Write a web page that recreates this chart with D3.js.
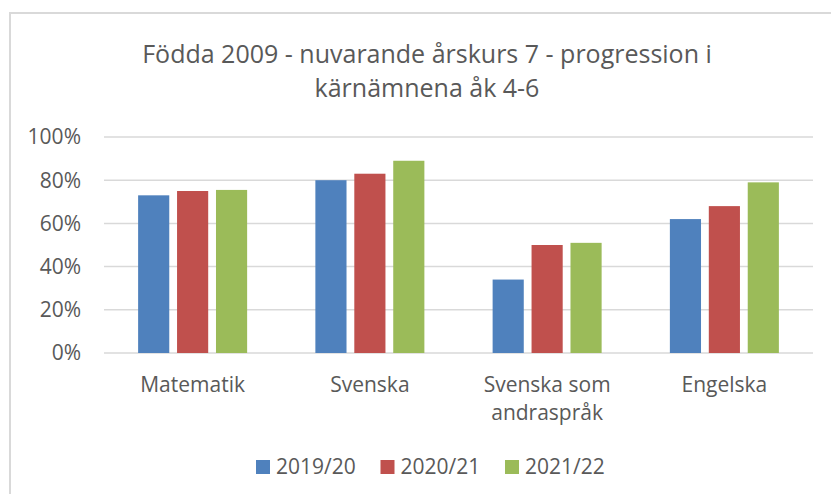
<!DOCTYPE html>
<meta charset="utf-8">
<script src="https://d3js.org/d3.v7.min.js"></script>
<style>
  body { margin: 0; background: #fff; }
  text { font-family: "Open Sans", sans-serif; fill: #595959; }
</style>
<svg width="831" height="494"></svg>
<script>

    const categories = [["Matematik"], ["Svenska"], ["Svenska som", "andraspråk"], ["Engelska"]];
    const seriesNames = ["2019/20", "2020/21", "2021/22"];
    const colors = ["#4f81bd", "#c0504d", "#9bbb59"];
    const values2019 = [0.73, 0.80, 0.34, 0.62];
    const values2020 = [0.75, 0.83, 0.50, 0.68];
    const values2021 = [0.755, 0.89, 0.51, 0.79];
    const yTicks = [0, 0.2, 0.4, 0.6, 0.8, 1];
    const titleLines = ["Födda 2009 - nuvarande årskurs 7 - progression i", "kärnämnena åk 4-6"];

    const series = [values2019, values2020, values2021];

    const margin = {top: 137, right: 18, bottom: 141, left: 104},
        width = 831,
        height = 494;

    const svg = d3.select('svg')

    // chart frame (runs off the right and bottom edge)
    svg.append('rect')
        .attr('x', 10)
        .attr('y', 13)
        .attr('width', 900)
        .attr('height', 600)
        .attr('fill', 'white')
        .attr('stroke', '#d9d9d9')
        .attr('stroke-width', 2)

    svg.append('g')
        .selectAll('text')
        .data(titleLines)
        .enter().append('text')
        .attr('x', 427)
        .attr('y', (d, i) => 63 + i * 34)
        .attr('text-anchor', 'middle')
        .style('font-size', '25px')
        .text(d => d)

    const xScale = d3.scaleBand()
        .domain(categories.map((d, i) => i))
        .range([margin.left, width - margin.right])
        .paddingInner(0.385)
        .paddingOuter(0.1925)

    const xSeries = d3.scaleBand()
        .domain(seriesNames.map((d, i) => i))
        .range([0, xScale.bandwidth()])
        .paddingInner(0.2)

    const yScale = d3.scaleLinear()
        .domain([0, 1])
        .range([height - margin.bottom, margin.top])

    // gridlines
    svg.append('g')
        .selectAll('line')
        .data(yTicks)
        .enter().append('line')
        .attr('x1', margin.left)
        .attr('x2', width - margin.right)
        .attr('y1', d => yScale(d))
        .attr('y2', d => yScale(d))
        .attr('stroke', '#d9d9d9')
        .attr('stroke-width', 1.5)

    svg.append('g')
        .selectAll('text')
        .data(yTicks)
        .enter().append('text')
        .attr('x', 81)
        .attr('y', d => yScale(d))
        .attr('dy', '0.35em')
        .attr('text-anchor', 'end')
        .style('font-size', '21px')
        .text(d => d3.format('.0%')(d))

    // bars
    const groups = svg.append('g')
        .selectAll('g')
        .data(series)
        .enter().append('g')
        .attr('fill', (d, i) => colors[i])

    groups.each(function (vals, s) {
        d3.select(this).selectAll('rect')
            .data(vals)
            .enter().append('rect')
            .attr('x', (d, i) => xScale(i) + xSeries(s))
            .attr('y', d => yScale(d))
            .attr('width', xSeries.bandwidth())
            .attr('height', d => yScale(0) - yScale(d))
    })

    // category labels
    const catLabels = svg.append('g')
        .selectAll('text')
        .data(categories)
        .enter().append('text')
        .attr('text-anchor', 'middle')
        .style('font-size', '21px')

    catLabels.selectAll('tspan')
        .data((d, i) => d.map(line => ({line, i})))
        .enter().append('tspan')
        .attr('x', d => xScale(d.i) + xScale.bandwidth() / 2)
        .attr('y', (d, j) => 385 + j * 28)
        .attr('dy', '0.35em')
        .text(d => d.line)

    // legend
    const legend = svg.append('g')
        .selectAll('g')
        .data(seriesNames)
        .enter().append('g')
        .attr('transform', (d, i) => 'translate(' + (256 + i * 124.5) + ',467)')

    legend.append('rect')
        .attr('x', 0)
        .attr('y', -7)
        .attr('width', 14)
        .attr('height', 14)
        .attr('fill', (d, i) => colors[i])

    legend.append('text')
        .attr('x', 20)
        .attr('dy', '0.35em')
        .style('font-size', '21px')
        .text(d => d)

</script>
